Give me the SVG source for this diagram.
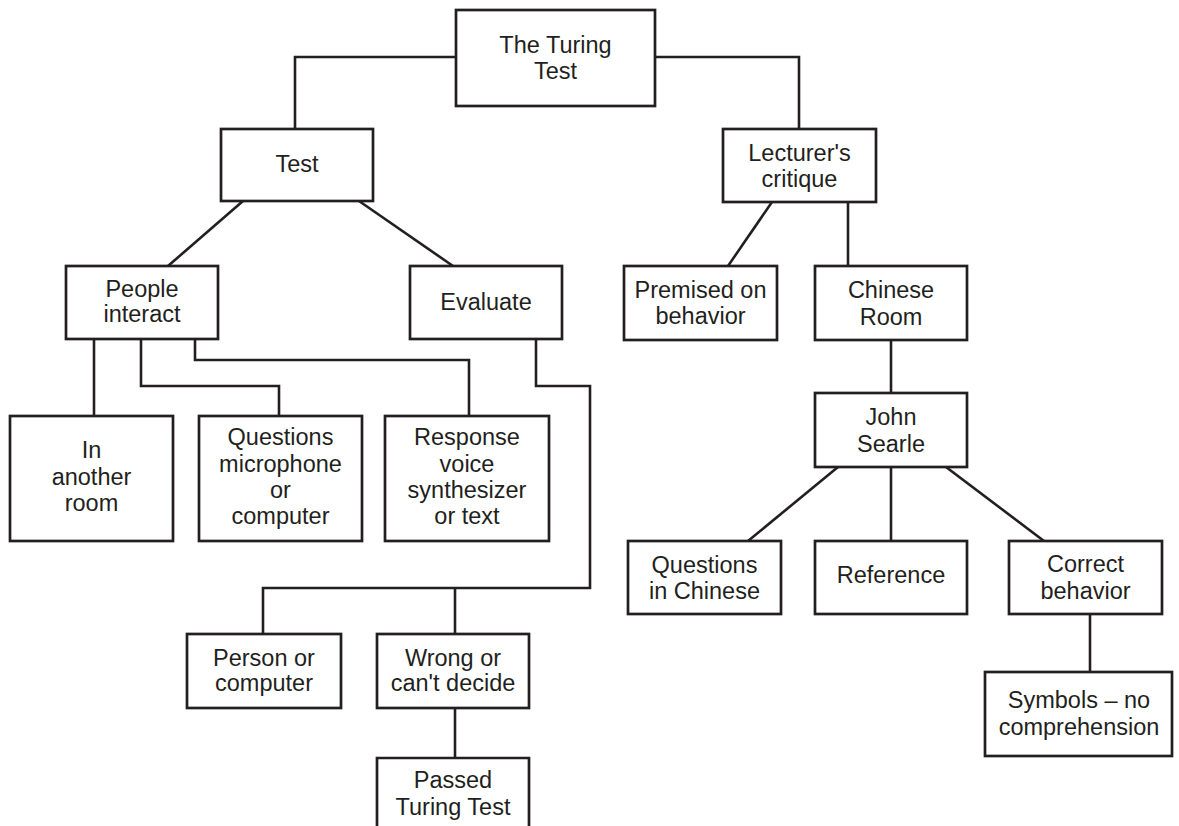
<svg xmlns="http://www.w3.org/2000/svg" width="1179" height="826" viewBox="0 0 1179 826">
<style>
.box{fill:#fff;stroke:#231f20;stroke-width:2.7}
.ln{fill:none;stroke:#231f20;stroke-width:2.6}
text{font-family:"Liberation Sans",Arial,sans-serif;font-size:23.5px;fill:#231f20;text-anchor:middle}
</style>
<rect width="1179" height="826" fill="#fff"/>
<g id="connectors">
<path class="ln" d="M456,57 H295 V129"/>
<path class="ln" d="M655,57 H799 V129"/>
<path class="ln" d="M243,201 L168,266"/>
<path class="ln" d="M359,201 L453,266"/>
<path class="ln" d="M772,202 L728,266"/>
<path class="ln" d="M848,202 V266"/>
<path class="ln" d="M891,340 V393"/>
<path class="ln" d="M838,467 L748,541"/>
<path class="ln" d="M891,467 V541"/>
<path class="ln" d="M946,467 L1044,541"/>
<path class="ln" d="M1090,614 V672"/>
<path class="ln" d="M94,339 V416"/>
<path class="ln" d="M141,339 V386 H279 V416"/>
<path class="ln" d="M195,339 V360 H469 V416"/>
<path class="ln" d="M536,339 V386 H590 V588 H263 V634"/>
<path class="ln" d="M455,588 V634"/>
<path class="ln" d="M455,708 V758"/>
</g>
<g id="turing"><rect class="box" x="456" y="10" width="199" height="96"/><text x="555.5" y="53">The Turing</text><text x="555.5" y="79">Test</text></g>
<g id="test"><rect class="box" x="221" y="129" width="152" height="72"/><text x="297" y="172">Test</text></g>
<g id="critique"><rect class="box" x="723" y="129" width="153" height="73"/><text x="799.5" y="161">Lecturer's</text><text x="799.5" y="187">critique</text></g>
<g id="people"><rect class="box" x="66" y="266" width="152" height="73"/><text x="142" y="297">People</text><text x="142" y="322">interact</text></g>
<g id="evaluate"><rect class="box" x="410" y="266" width="152" height="73"/><text x="486" y="310">Evaluate</text></g>
<g id="premised"><rect class="box" x="624" y="266" width="153" height="74"/><text x="700.5" y="298">Premised on</text><text x="700.5" y="324">behavior</text></g>
<g id="chinese-room"><rect class="box" x="815" y="266" width="152" height="74"/><text x="891" y="298">Chinese</text><text x="891" y="325">Room</text></g>
<g id="searle"><rect class="box" x="815" y="393" width="152" height="74"/><text x="891" y="425">John</text><text x="891" y="452">Searle</text></g>
<g id="q-chinese"><rect class="box" x="628" y="541" width="153" height="73"/><text x="704.5" y="573">Questions</text><text x="704.5" y="599">in Chinese</text></g>
<g id="reference"><rect class="box" x="815" y="541" width="152" height="73"/><text x="891" y="583">Reference</text></g>
<g id="correct"><rect class="box" x="1009" y="541" width="153" height="73"/><text x="1085.5" y="572">Correct</text><text x="1085.5" y="599">behavior</text></g>
<g id="symbols"><rect class="box" x="985" y="672" width="187" height="84"/><text x="1079" y="708">Symbols – no</text><text x="1079" y="735">comprehension</text></g>
<g id="another-room"><rect class="box" x="10" y="416" width="163" height="125"/><text x="91.5" y="458">In</text><text x="91.5" y="485">another</text><text x="91.5" y="511">room</text></g>
<g id="questions"><rect class="box" x="199" y="416" width="163" height="125"/><text x="280.5" y="445">Questions</text><text x="280.5" y="471.5">microphone</text><text x="280.5" y="498">or</text><text x="280.5" y="524">computer</text></g>
<g id="response"><rect class="box" x="385" y="416" width="164" height="125"/><text x="467" y="445">Response</text><text x="467" y="471.5">voice</text><text x="467" y="498">synthesizer</text><text x="467" y="524">or text</text></g>
<g id="person"><rect class="box" x="187" y="634" width="154" height="74"/><text x="264" y="666">Person or</text><text x="264" y="691">computer</text></g>
<g id="wrong"><rect class="box" x="377" y="634" width="152" height="74"/><text x="453" y="666">Wrong or</text><text x="453" y="691">can't decide</text></g>
<g id="passed"><path class="box" d="M377,830 V758 H529 V830"/><text x="453" y="788">Passed</text><text x="453" y="815">Turing Test</text></g>
</svg>
